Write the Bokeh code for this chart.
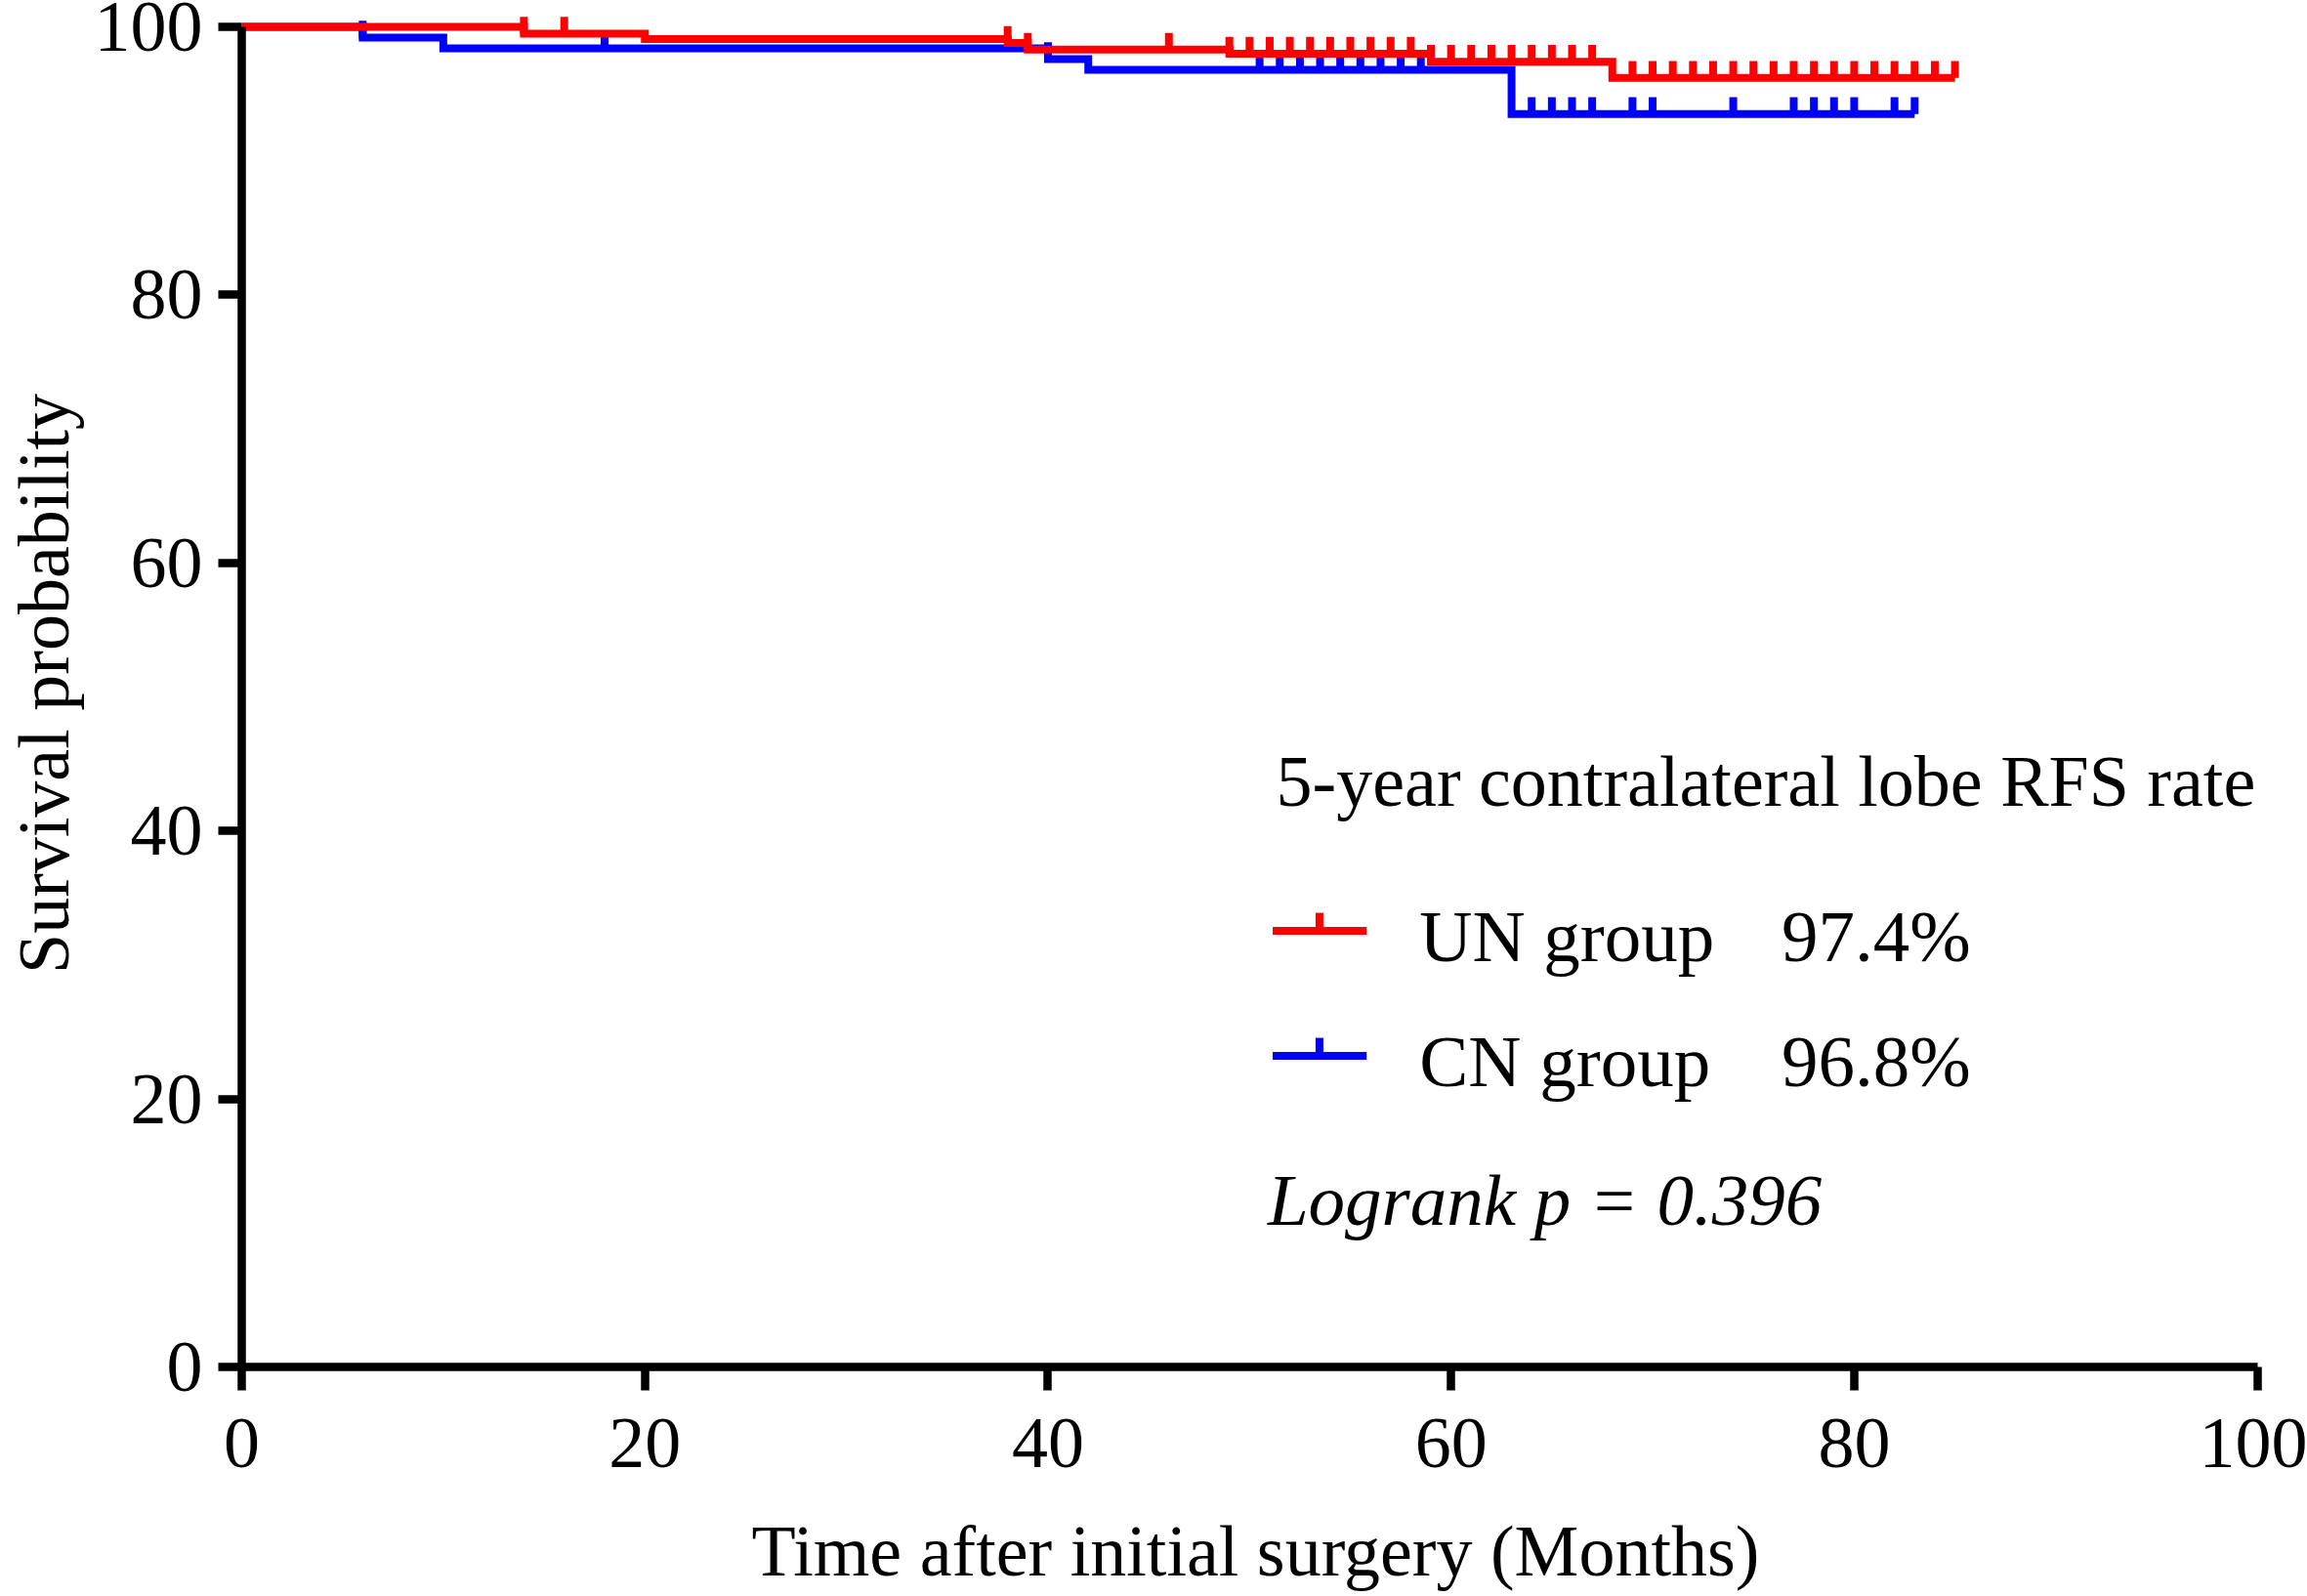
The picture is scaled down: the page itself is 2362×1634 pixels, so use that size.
import numpy as np
from bokeh.plotting import figure
from bokeh.models import Range1d, Label, FixedTicker
from bokeh.embed import file_html
from bokeh.resources import INLINE

# ---- data ----
un_times = [0, 14, 20, 38, 39, 49, 59, 68, 85]
un_surv = [100, 99.5, 99.1, 98.8, 98.3, 98.0, 97.4, 96.2, 96.2]
un_censored = [14, 16, 38, 39, 46, 49, 50, 51, 52, 53, 54, 55, 56, 57, 58, 59,
               60, 61, 62, 63, 64, 65, 66, 67, 69, 70, 71, 72, 73, 74, 75, 76,
               77, 78, 79, 80, 81, 82, 83, 84, 85]

cn_times = [0, 6, 10, 40, 42, 63, 83]
cn_surv = [100, 99.2, 98.4, 97.6, 96.8, 93.5, 93.5]
cn_censored = [6, 18, 40, 50.5, 51.5, 52.5, 53.5, 54.5, 55.5, 56.5, 57.5, 58.5,
               64, 65, 66, 67, 69, 70, 74, 77, 78, 79, 80, 82, 83]

x_ticks = [0, 20, 40, 60, 80, 100]
y_ticks = [0, 20, 40, 60, 80, 100]

legend_title = "5-year contralateral lobe RFS rate"
group_names = ["UN group", "CN group"]
group_rates = ["97.4%", "96.8%"]
pvalue_text = "Logrank p = 0.396"

RED = "#FF0000"
BLUE = "#0000FF"
FONT = "Liberation Serif"
LW = 8
TICK_H = 1.25
TXT_DY = 1.35  # baseline correction for labels


def level_at(times, surv, t):
    idx = np.searchsorted(np.asarray(times, dtype=float), np.asarray(t, dtype=float), side="right") - 1
    return np.asarray(surv, dtype=float)[idx]


p = figure(width=2362, height=1634,
           x_range=Range1d(0, 100.6), y_range=Range1d(0, 101.97),
           output_backend="svg", toolbar_location=None,
           min_border_left=246, min_border_right=39,
           min_border_top=0, min_border_bottom=235)
p.outline_line_color = None
p.xgrid.grid_line_color = None
p.ygrid.grid_line_color = None
p.background_fill_color = "white"
p.border_fill_color = "white"

for ax, ticks in ((p.xaxis, x_ticks), (p.yaxis, y_ticks)):
    ax.ticker = FixedTicker(ticks=ticks)
    ax.bounds = (0, 100)
    ax.axis_line_width = 8.5
    ax.axis_line_color = "black"
    ax.major_tick_line_width = 8.5
    ax.major_tick_line_color = "black"
    ax.major_tick_out = 24
    ax.major_tick_in = 0
    ax.minor_tick_line_color = None
    ax.major_label_text_font = FONT
    ax.major_label_text_font_size = "74px"
    ax.major_label_text_color = "black"
    ax.axis_label_text_font = FONT
    ax.axis_label_text_font_size = "74px"
    ax.axis_label_text_font_style = "normal"
    ax.axis_label_text_color = "black"

p.xaxis.axis_label = "Time after initial surgery (Months)"
p.yaxis.axis_label = "Survival probability"
p.xaxis.major_label_standoff = 29
p.xaxis.axis_label_standoff = 42
p.yaxis.major_label_standoff = 16
p.yaxis.axis_label_standoff = 8
p.yaxis.axis_label_text_line_height = 0.9

# ---- curves (blue under red) ----
for times, surv, cens, col in ((cn_times, cn_surv, cn_censored, BLUE),
                               (un_times, un_surv, un_censored, RED)):
    p.step(x=times, y=surv, mode="after", line_color=col, line_width=LW,
           line_join="miter", line_cap="butt")
    lv = level_at(times, surv, cens)
    p.segment(x0=cens, y0=lv, x1=cens, y1=lv + TICK_H, line_color=col,
              line_width=LW, line_cap="butt")

# ---- legend block ----
lx0, lx1, ltick = 51.15, 55.81, 53.47
ly = [32.54, 23.21]
cols = [RED, BLUE]
p.segment(x0=[lx0, lx0], y0=ly, x1=[lx1, lx1], y1=ly, line_color=cols,
          line_width=LW, line_cap="butt")
p.segment(x0=[ltick, ltick], y0=ly, x1=[ltick, ltick], y1=[v + 1.35 for v in ly],
          line_color=cols, line_width=LW, line_cap="butt")

p.add_layout(Label(x=51.32, y=42.32 + TXT_DY, text=legend_title, text_font=FONT,
                   text_font_size="74px", text_color="black",
                   text_baseline="alphabetic"))
for yy, name, rate in zip([30.78, 21.43], group_names, group_rates):
    p.add_layout(Label(x=58.43, y=yy + TXT_DY, text=name, text_font=FONT,
                       text_font_size="75px", text_color="black",
                       text_baseline="alphabetic"))
    p.add_layout(Label(x=76.4, y=yy + TXT_DY, text=rate, text_font=FONT,
                       text_font_size="75px", text_color="black",
                       text_baseline="alphabetic"))
p.add_layout(Label(x=50.9, y=11.1 + TXT_DY, text=pvalue_text, text_font=FONT,
                   text_font_size="75px", text_font_style="italic",
                   text_color="black", text_baseline="alphabetic"))

with open("out.html", "w") as f:
    f.write(file_html(p, INLINE))
